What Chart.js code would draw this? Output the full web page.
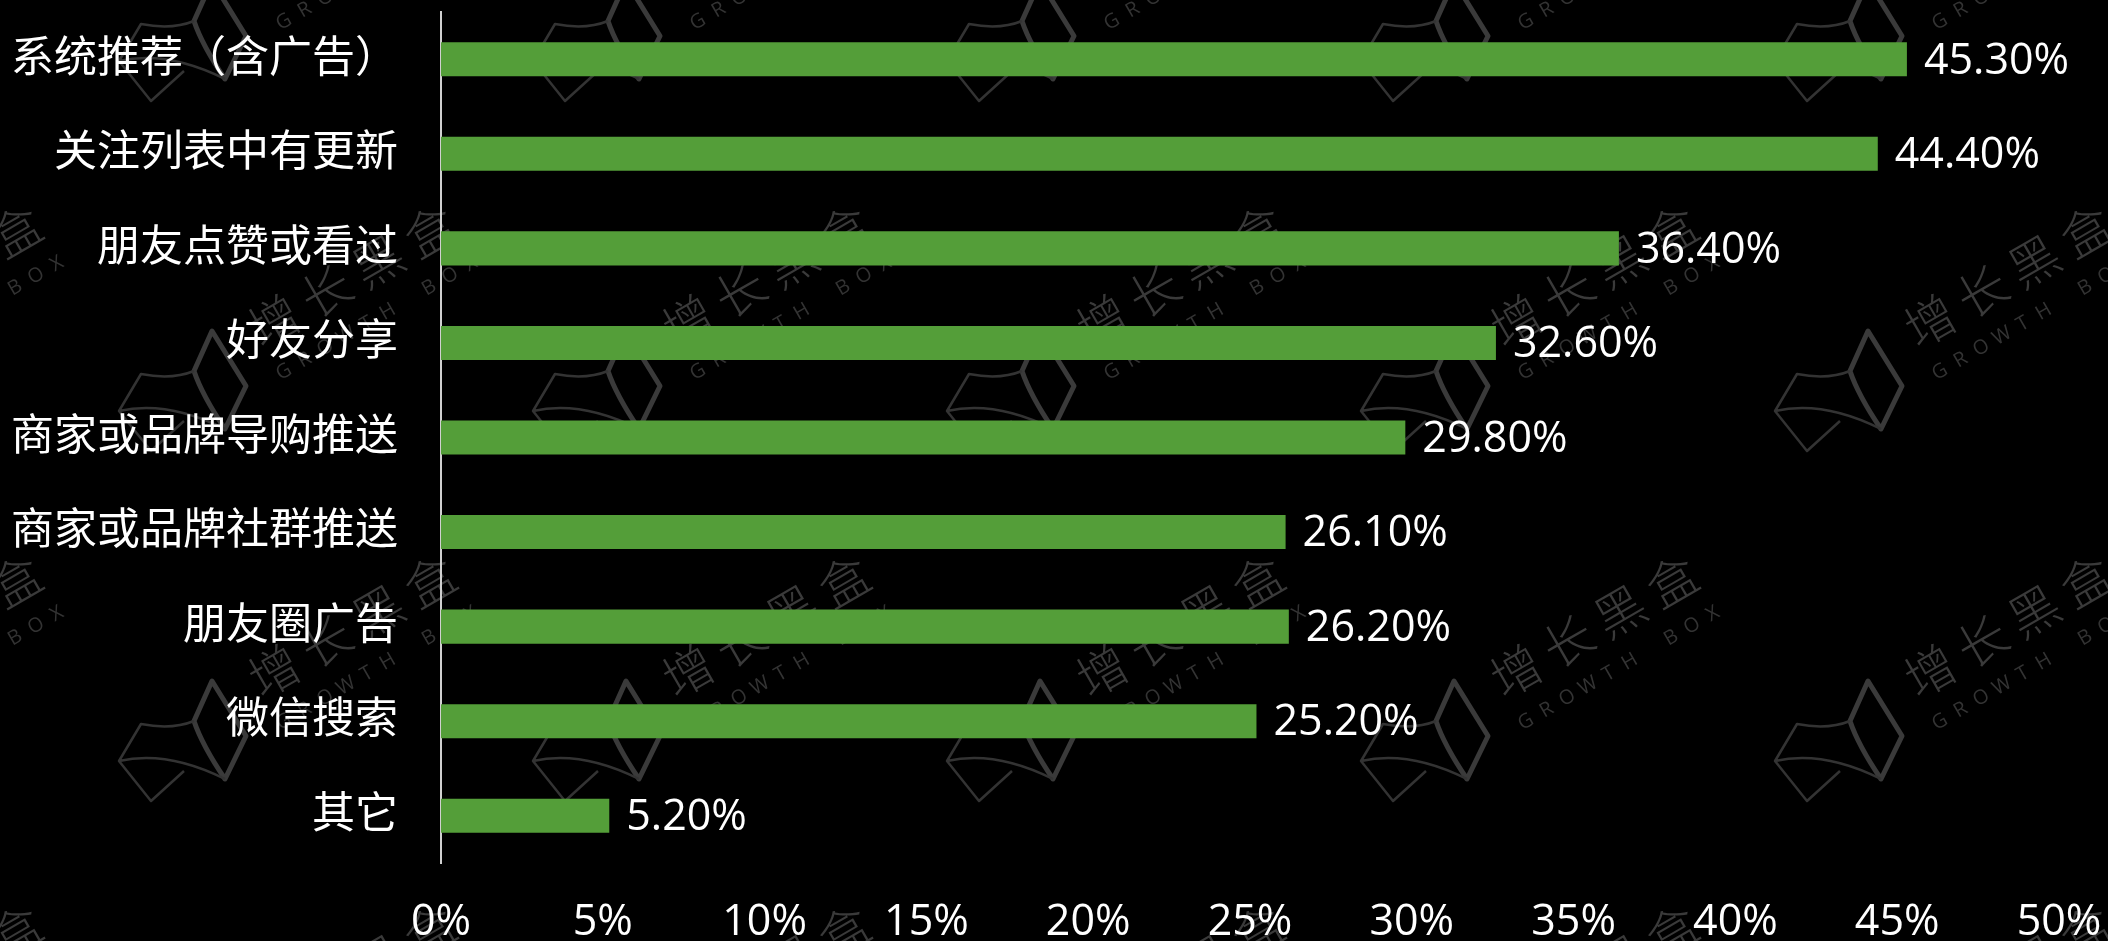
<!DOCTYPE html>
<html>
<head>
<meta charset="utf-8">
<script src="https://cdn.jsdelivr.net/npm/chart.js@4"></script>
<style>
    html, body { margin: 0; padding: 0; background: #000; }
    #wrap { width: 2108px; height: 941px; }
</style>
</head>
<body>
<div id="wrap"><canvas id="chart" width="2108" height="941"></canvas></div>
<script>
const categories = ['系统推荐（含广告）', '关注列表中有更新', '朋友点赞或看过', '好友分享', '商家或品牌导购推送', '商家或品牌社群推送', '朋友圈广告', '微信搜索', '其它'];
const values = [45.3, 44.4, 36.4, 32.6, 29.8, 26.1, 26.2, 25.2, 5.2];
const xTickValues = [0, 5, 10, 15, 20, 25, 30, 35, 40, 45, 50];
const watermarkTitle = '增长黑盒';
const watermarkSub = 'GROWTH BOX';

const FONT = '"Open Sans", "Noto Sans CJK SC", sans-serif';

// faint repeated logo in the background
const watermark = {
    id: 'watermark',
    beforeDraw(chart) {
        const ctx = chart.ctx;
        ctx.save();
        ctx.fillStyle = '#000';
        ctx.fillRect(0, 0, chart.width, chart.height);
        const cols = [-62, 352, 766, 1180, 1594, 2008];
        const rows = [-74, 276, 626, 976];
        rows.forEach(y => {
            cols.forEach(x => drawMark(ctx, x, y));
        });
        ctx.restore();
    }
};

function drawMark(ctx, x, y) {
    // icon, screen aligned offsets
    ctx.save();
    ctx.translate(x - 170, y + 114);
    ctx.strokeStyle = '#3a3a3a';
    ctx.lineJoin = 'round';
    ctx.lineWidth = 5;
    ctx.beginPath();
    ctx.moveTo(30, -59);
    ctx.lineTo(64, -4);
    ctx.lineTo(43, 39);
    ctx.quadraticCurveTo(20, 5, 12, -19);
    ctx.closePath();
    ctx.stroke();
    ctx.lineWidth = 2.5;
    ctx.strokeStyle = '#333';
    ctx.beginPath();
    ctx.moveTo(12, -19);
    ctx.quadraticCurveTo(-10, -10, -41, -16);
    ctx.lineTo(-63, 21);
    ctx.quadraticCurveTo(-15, 10, 43, 39);
    ctx.moveTo(-63, 21);
    ctx.lineTo(-31, 61);
    ctx.lineTo(2, 31);
    ctx.stroke();
    ctx.restore();

    ctx.save();
    ctx.translate(x, y);
    ctx.rotate(-Math.PI / 6);
    ctx.fillStyle = '#3a3a3a';
    ctx.textAlign = 'center';
    ctx.textBaseline = 'middle';
    ctx.font = '300 50px "Noto Sans CJK SC"';
    [...watermarkTitle].forEach((ch, i) => {
        ctx.fillText(ch, -90 + i * 60, 0);
    });
    ctx.fillStyle = '#333';
    ctx.font = '20px "Open Sans"';
    [...watermarkSub].forEach((ch, i) => {
        ctx.fillText(ch, -107 + i * 24, 49);
    });
    ctx.restore();
}

const barLabels = {
    id: 'barLabels',
    afterDatasetsDraw(chart) {
        const ctx = chart.ctx;
        const meta = chart.getDatasetMeta(0);
        ctx.save();
        ctx.fillStyle = '#fff';
        ctx.font = '43px ' + FONT;
        ctx.textAlign = 'left';
        ctx.textBaseline = 'middle';
        meta.data.forEach((bar, i) => {
            ctx.fillText(values[i].toFixed(2) + '%', bar.x + 17, bar.y + 2);
        });
        ctx.restore();
    }
};

new Chart(document.getElementById('chart'), {
    type: 'bar',
    data: {
        labels: categories,
        datasets: [{
            data: values,
            backgroundColor: '#549E39',
            borderWidth: 0,
            categoryPercentage: 1,
            barPercentage: 0.36
        }]
    },
    options: {
        indexAxis: 'y',
        responsive: false,
        animation: false,
        layout: { padding: { top: 12, right: 49, left: 0, bottom: 0 } },
        plugins: {
            legend: { display: false },
            tooltip: { enabled: false },
            title: { display: false }
        },
        scales: {
            x: {
                min: 0,
                max: 50,
                afterBuildTicks: scale => {
                    scale.ticks = xTickValues.map(v => ({ value: v }));
                },
                afterFit: scale => {
                    scale.height = 78;
                    scale.paddingLeft = 0;
                    scale.paddingRight = 0;
                },
                grid: { display: false, drawTicks: false },
                border: { display: false },
                ticks: {
                    color: '#fff',
                    padding: 34,
                    maxRotation: 0,
                    autoSkip: false,
                    font: { size: 43, family: FONT },
                    callback: v => v + '%'
                }
            },
            y: {
                afterFit: scale => {
                    scale.width = 441;
                    scale.paddingTop = 0;
                    scale.paddingBottom = 0;
                },
                grid: { display: false, drawTicks: false },
                border: { display: true, color: '#d0d0d0', width: 2 },
                ticks: {
                    color: '#fff',
                    padding: 43,
                    autoSkip: false,
                    font: { size: 43, family: FONT }
                }
            }
        }
    },
    plugins: [watermark, barLabels]
});
</script>
</body>
</html>
